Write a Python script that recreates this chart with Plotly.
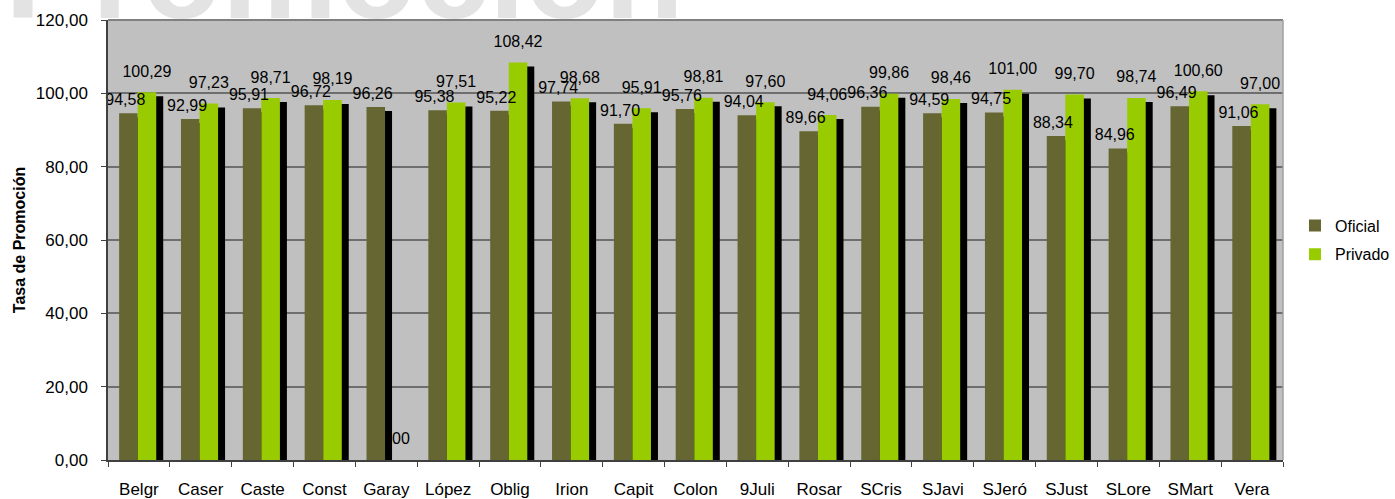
import plotly.graph_objects as go

categories = ["Belgr", "Caser", "Caste", "Const", "Garay", "López", "Oblig", "Irion", "Capit", "Colon",
              "9Juli", "Rosar", "SCris", "SJavi", "SJeró", "SJust", "SLore", "SMart", "Vera"]
oficial = [94.58, 92.99, 95.91, 96.72, 96.26, 95.38, 95.22, 97.74, 91.70, 95.76,
           94.04, 89.66, 96.36, 94.59, 94.75, 88.34, 84.96, 96.49, 91.06]
privado = [100.29, 97.23, 98.71, 98.19, 0.00, 97.51, 108.42, 98.68, 95.91, 98.81,
           97.60, 94.06, 99.86, 98.46, 101.00, 99.70, 98.74, 100.60, 97.00]

y_ticks = [0, 20, 40, 60, 80, 100, 120]

C_OFI = "#666633"
C_PRI = "#99cc00"
C_SHADOW = "#000000"
FONT = "Liberation Sans, Arial, sans-serif"

BAR_W = 0.30
OFF_OFI = -0.32
OFF_PRI = -0.02
SH_DX = 0.065      # shadow shift right (category units)
SH_DW = 0.048      # shadow extra width
SH_DROP = 1.09     # shadow top drop (value units)
SH_BASE = -0.82    # shadow bottom below zero
LIFT_PRI = 2.6
LIFT_OFI = 0.6


def fmt(v):
    return f"{v:.2f}".replace(".", ",")


def shadow_h(vals):
    return [(v - SH_DROP - SH_BASE) if v > 0 else 0 for v in vals]


fig = go.Figure()

# privado labels (under everything else)
fig.add_trace(go.Bar(
    x=categories, y=[LIFT_PRI] * len(privado), base=privado,
    offset=OFF_PRI, width=BAR_W, marker=dict(color="rgba(0,0,0,0)", line=dict(width=0)),
    text=[fmt(v) for v in privado], textposition="outside", textangle=0, constraintext="none",
    textfont=dict(family=FONT, size=16, color="black"), cliponaxis=False,
    showlegend=False, hoverinfo="skip"))

# shadows
fig.add_trace(go.Bar(
    x=categories, y=shadow_h(oficial), base=SH_BASE,
    offset=OFF_OFI + SH_DX, width=BAR_W + SH_DW,
    marker=dict(color=C_SHADOW, line=dict(width=0)), cliponaxis=False,
    showlegend=False, hoverinfo="skip"))
fig.add_trace(go.Bar(
    x=categories, y=shadow_h(privado), base=SH_BASE,
    offset=OFF_PRI + SH_DX, width=BAR_W + SH_DW,
    marker=dict(color=C_SHADOW, line=dict(width=0)), cliponaxis=False,
    showlegend=False, hoverinfo="skip"))

# main bars
fig.add_trace(go.Bar(
    x=categories, y=oficial, name="Oficial", offset=OFF_OFI, width=BAR_W,
    legendgroup="ofi", marker=dict(color=C_OFI, line=dict(width=0)), cliponaxis=False))
fig.add_trace(go.Bar(
    x=categories, y=privado, name="Privado", offset=OFF_PRI, width=BAR_W,
    legendgroup="pri", marker=dict(color=C_PRI, line=dict(width=0)), cliponaxis=False))

# oficial labels (on top)
fig.add_trace(go.Bar(
    x=categories, y=[LIFT_OFI] * len(oficial), base=oficial,
    offset=OFF_OFI - 0.05, width=BAR_W, marker=dict(color="rgba(0,0,0,0)", line=dict(width=0)),
    text=[fmt(v) for v in oficial], textposition="outside", textangle=0, constraintext="none",
    textfont=dict(family=FONT, size=16, color="black"), cliponaxis=False,
    showlegend=False, hoverinfo="skip"))

fig.update_layout(
    width=1395, height=499, autosize=False,
    margin=dict(l=108, r=112, t=20, b=39, autoexpand=False),
    barmode="overlay",
    separators=",.",
    paper_bgcolor="white",
    plot_bgcolor="#c0c0c0",
    font=dict(family=FONT, size=16, color="black"),
    legend=dict(x=1.0102, y=0.5, xanchor="left", yanchor="middle",
                font=dict(family=FONT, size=16, color="black"),
                bgcolor="rgba(0,0,0,0)", itemwidth=30, traceorder="grouped",
                tracegroupgap=5),
    xaxis=dict(type="category", tickson="boundaries", ticks="outside", ticklen=5,
               tickcolor="#404040", showline=True, linecolor="#404040", linewidth=1.5,
               showgrid=False, tickfont=dict(family=FONT, size=17, color="black"),
               ticklabelstandoff=13, automargin=False,
               range=[-0.5, len(categories) - 0.5]),
    yaxis=dict(range=[0, 120], tickvals=y_ticks, tickformat=".2f", ticks="outside", ticklen=5,
               tickcolor="#404040", showline=True, linecolor="#404040", linewidth=1.5,
               showgrid=True, gridcolor="#6e6e6e", gridwidth=1.5, zeroline=False,
               tickfont=dict(family=FONT, size=17, color="black"), ticklabelstandoff=10,
               automargin=False,
               title=dict(text="<b>Tasa de Promoción</b>", standoff=6,
                          font=dict(family=FONT, size=16, color="black"))),
    shapes=[
        dict(type="line", xref="paper", yref="paper", x0=0, x1=1, y0=1, y1=1,
             line=dict(color="#808080", width=2), layer="above"),
        dict(type="line", xref="paper", yref="paper", x0=1, x1=1, y0=0, y1=1,
             line=dict(color="#a0a0a0", width=1.5), layer="above"),
    ],
    annotations=[
        dict(text="<b>Promoción</b>", xref="paper", yref="paper", x=-0.089, y=0.936,
             xanchor="left", yanchor="bottom", showarrow=False,
             font=dict(family=FONT, size=130, color="#e3e3e3")),
    ],
)

fig.write_html("out.html", config={"displayModeBar": False},
               post_script="document.body.style.margin='0';")
